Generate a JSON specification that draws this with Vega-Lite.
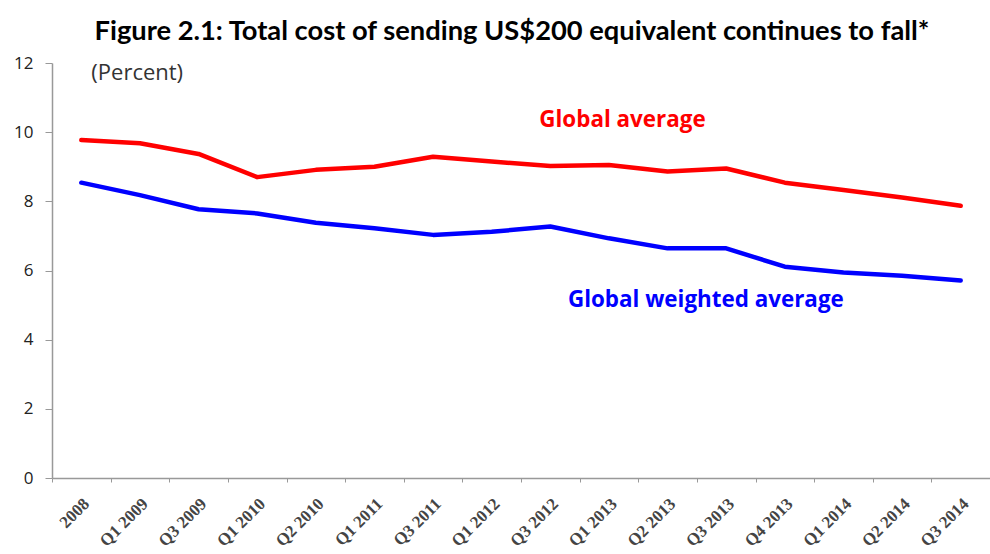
{
  "$schema": "https://vega.github.io/schema/vega-lite/v6.json",
  "width": 938,
  "height": 415,
  "autosize": {"type": "none"},
  "padding": {"left": 52, "top": 63, "right": 0, "bottom": 76},
  "background": "white",
  "title": {
    "text": "Figure 2.1: Total cost of sending US$200 equivalent continues to fall*",
    "font": "Lato",
    "fontSize": 27.3,
    "fontWeight": "bold",
    "color": "black",
    "anchor": "middle",
    "dx": -9,
    "offset": 9
  },
  "config": {"view": {"stroke": null}},
  "datasets": {
    "series": [
      {"period": "2008", "series": "Global average", "value": 9.77},
      {"period": "Q1 2009", "series": "Global average", "value": 9.68},
      {"period": "Q3 2009", "series": "Global average", "value": 9.37},
      {"period": "Q1 2010", "series": "Global average", "value": 8.70},
      {"period": "Q2 2010", "series": "Global average", "value": 8.91},
      {"period": "Q1 2011", "series": "Global average", "value": 9.00},
      {"period": "Q3 2011", "series": "Global average", "value": 9.29},
      {"period": "Q1 2012", "series": "Global average", "value": 9.15},
      {"period": "Q3 2012", "series": "Global average", "value": 9.02},
      {"period": "Q1 2013", "series": "Global average", "value": 9.05},
      {"period": "Q2 2013", "series": "Global average", "value": 8.86},
      {"period": "Q3 2013", "series": "Global average", "value": 8.95},
      {"period": "Q4 2013", "series": "Global average", "value": 8.54},
      {"period": "Q1 2014", "series": "Global average", "value": 8.33},
      {"period": "Q2 2014", "series": "Global average", "value": 8.11},
      {"period": "Q3 2014", "series": "Global average", "value": 7.87},
      {"period": "2008", "series": "Global weighted average", "value": 8.54},
      {"period": "Q1 2009", "series": "Global weighted average", "value": 8.18},
      {"period": "Q3 2009", "series": "Global weighted average", "value": 7.77},
      {"period": "Q1 2010", "series": "Global weighted average", "value": 7.65},
      {"period": "Q2 2010", "series": "Global weighted average", "value": 7.38},
      {"period": "Q1 2011", "series": "Global weighted average", "value": 7.22},
      {"period": "Q3 2011", "series": "Global weighted average", "value": 7.03},
      {"period": "Q1 2012", "series": "Global weighted average", "value": 7.12},
      {"period": "Q3 2012", "series": "Global weighted average", "value": 7.27},
      {"period": "Q1 2013", "series": "Global weighted average", "value": 6.93},
      {"period": "Q2 2013", "series": "Global weighted average", "value": 6.64},
      {"period": "Q3 2013", "series": "Global weighted average", "value": 6.64},
      {"period": "Q4 2013", "series": "Global weighted average", "value": 6.11},
      {"period": "Q1 2014", "series": "Global weighted average", "value": 5.94},
      {"period": "Q2 2014", "series": "Global weighted average", "value": 5.85},
      {"period": "Q3 2014", "series": "Global weighted average", "value": 5.71}
    ],
    "notes": [
      {"period": "2008", "value": 11.7, "label": "(Percent)", "kind": "unit"},
      {"period": "Q3 2012", "value": 10.35, "label": "Global average", "kind": "red"},
      {"period": "Q1 2013", "value": 5.15, "label": "Global weighted average", "kind": "blue"}
    ]
  },
  "encoding": {
    "x": {
      "field": "period",
      "type": "nominal",
      "sort": null,
      "scale": {"type": "band", "domain": ["2008", "Q1 2009", "Q3 2009", "Q1 2010", "Q2 2010", "Q1 2011", "Q3 2011", "Q1 2012", "Q3 2012", "Q1 2013", "Q2 2013", "Q3 2013", "Q4 2013", "Q1 2014", "Q2 2014", "Q3 2014"], "paddingInner": 0, "paddingOuter": 0},
      "axis": {
        "title": null,
        "labelAngle": -45,
        "labelAlign": "right",
        "labelBaseline": "middle",
        "labelFont": "Liberation Serif",
        "labelFontSize": 17,
        "labelFontWeight": "bold",
        "labelColor": "#444444",
        "labelPadding": 19,
        "labelOffset": 5,
        "tickBand": "extent",
        "tickSize": 4,
        "tickColor": "#999999",
        "domainColor": "#999999",
        "domainWidth": 1.5,
        "grid": false
      }
    },
    "y": {
      "field": "value",
      "type": "quantitative",
      "scale": {"domain": [0, 12], "nice": false, "zero": true},
      "axis": {
        "title": null,
        "values": [0, 2, 4, 6, 8, 10, 12],
        "labelFont": "Open Sans",
        "labelFontSize": 17,
        "labelColor": "#222222",
        "labelPadding": 12,
        "tickSize": 7,
        "tickColor": "#999999",
        "domainColor": "#999999",
        "domainWidth": 1.5,
        "grid": false
      }
    }
  },
  "layer": [
    {
      "data": {"name": "series"},
      "mark": {"type": "line", "strokeWidth": 4.5, "strokeJoin": "round", "strokeCap": "round"},
      "encoding": {
        "color": {
          "field": "series",
          "type": "nominal",
          "scale": {"domain": ["Global average", "Global weighted average"], "range": ["#FF0000", "#0000FF"]},
          "legend": null
        }
      }
    },
    {
      "data": {"name": "notes"},
      "transform": [{"filter": "datum.kind == 'unit'"}],
      "mark": {"type": "text", "align": "left", "baseline": "middle", "dx": 10, "font": "Open Sans", "fontSize": 22, "color": "#333333"},
      "encoding": {"text": {"field": "label"}}
    },
    {
      "data": {"name": "notes"},
      "transform": [{"filter": "datum.kind == 'red'"}],
      "mark": {"type": "text", "align": "left", "baseline": "middle", "dx": -11, "font": "Open Sans", "fontSize": 22.4, "fontWeight": "bold", "color": "#FF0000"},
      "encoding": {"text": {"field": "label"}}
    },
    {
      "data": {"name": "notes"},
      "transform": [{"filter": "datum.kind == 'blue'"}],
      "mark": {"type": "text", "align": "left", "baseline": "middle", "dx": -41, "font": "Open Sans", "fontSize": 22.4, "fontWeight": "bold", "color": "#0000FF"},
      "encoding": {"text": {"field": "label"}}
    }
  ]
}
